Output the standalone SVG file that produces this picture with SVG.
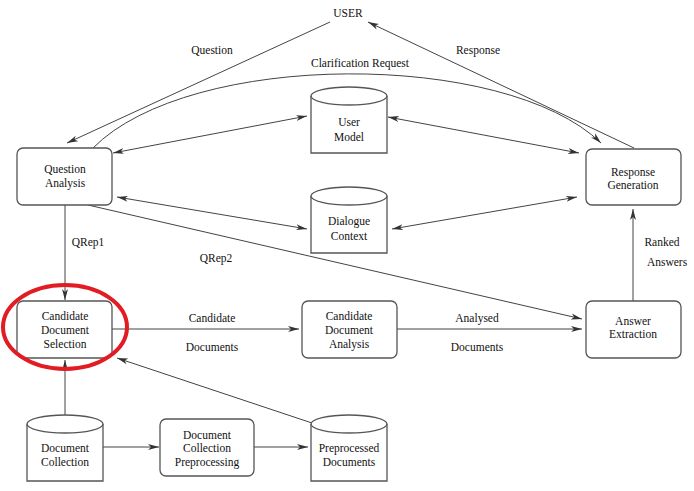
<svg xmlns="http://www.w3.org/2000/svg" width="694" height="491" viewBox="0 0 694 491">
<style>
.bx{fill:#fff;stroke:#555;stroke-width:1.3}
.t{font-family:"Liberation Serif","Times New Roman",serif;font-size:11.5px;fill:#111;text-anchor:middle}
.c{fill:none;stroke:#444;stroke-width:1}
</style>
<defs>
<marker id="ah" markerUnits="userSpaceOnUse" markerWidth="12" markerHeight="8" viewBox="0 0 12 8" refX="11" refY="4" orient="auto-start-reverse">
<path d="M0,1 L11,4 L0,7 L3,4 z" fill="#333"/>
</marker>
</defs>
<rect width="694" height="491" fill="#fff"/>
<g id="connectors">
<path class="c" d="M330,22 L67,143" marker-end="url(#ah)"/>
<path class="c" d="M634,148 L368,22" marker-end="url(#ah)"/>
<path class="c" d="M93,148 C190,50 505,50 601,143" marker-end="url(#ah)"/>
<path class="c" d="M113,153 L307,116" marker-start="url(#ah)" marker-end="url(#ah)"/>
<path class="c" d="M388,117 L579,153" marker-start="url(#ah)" marker-end="url(#ah)"/>
<path class="c" d="M117,197 L307,229" marker-start="url(#ah)" marker-end="url(#ah)"/>
<path class="c" d="M392,229 L577,197" marker-start="url(#ah)" marker-end="url(#ah)"/>
<path class="c" d="M65,205 L65,300" marker-end="url(#ah)"/>
<path class="c" d="M88,205 L582,319" marker-end="url(#ah)"/>
<path class="c" d="M112,329 L299,329" marker-end="url(#ah)"/>
<path class="c" d="M397,329 L582,329" marker-end="url(#ah)"/>
<path class="c" d="M633,301 L633,209" marker-end="url(#ah)"/>
<path class="c" d="M65,415 L65,360" marker-end="url(#ah)"/>
<path class="c" d="M312,423 L117,358" marker-end="url(#ah)"/>
<path class="c" d="M103,447 L159,447" marker-end="url(#ah)"/>
<path class="c" d="M254,447 L308,447" marker-end="url(#ah)"/>
<text class="t" x="212" y="54">Question</text>
<text class="t" x="478" y="54">Response</text>
<text class="t" x="360" y="67">Clarification Request</text>
<text class="t" x="88" y="246">QRep1</text>
<text class="t" x="216" y="262">QRep2</text>
<text class="t" x="212" y="322">Candidate</text>
<text class="t" x="212" y="351">Documents</text>
<text class="t" x="477" y="322">Analysed</text>
<text class="t" x="477" y="351">Documents</text>
<text class="t" x="662" y="246">Ranked</text>
<text class="t" x="667" y="266">Answers</text>
</g>
<g id="user"><text class="t" x="348" y="17">USER</text></g>
<g id="question-analysis">
<rect class="bx" x="17" y="148" width="95" height="57" rx="6"/>
<text class="t" x="65" y="173">Question</text>
<text class="t" x="65" y="187">Analysis</text>
</g>
<g id="response-generation">
<rect class="bx" x="586" y="149" width="95" height="56" rx="6"/>
<text class="t" x="633" y="176">Response</text>
<text class="t" x="633" y="189">Generation</text>
</g>
<g id="user-model">
<path class="bx" d="M311,96 L311,153 L387,153 L387,96"/>
<ellipse class="bx" cx="349" cy="96" rx="38" ry="9"/>
<text class="t" x="349" y="126">User</text>
<text class="t" x="349" y="141">Model</text>
</g>
<g id="dialogue-context">
<path class="bx" d="M311,196 L311,253 L387,253 L387,196"/>
<ellipse class="bx" cx="349" cy="196" rx="38" ry="9"/>
<text class="t" x="349" y="225">Dialogue</text>
<text class="t" x="349" y="240">Context</text>
</g>
<g id="candidate-document-selection">
<rect class="bx" x="17" y="301" width="95" height="57" rx="6"/>
<text class="t" x="65" y="320">Candidate</text>
<text class="t" x="65" y="334">Document</text>
<text class="t" x="65" y="348">Selection</text>
</g>
<g id="candidate-document-analysis">
<rect class="bx" x="302" y="301" width="95" height="57" rx="6"/>
<text class="t" x="349" y="320">Candidate</text>
<text class="t" x="349" y="334">Document</text>
<text class="t" x="349" y="348">Analysis</text>
</g>
<g id="answer-extraction">
<rect class="bx" x="586" y="301" width="95" height="57" rx="6"/>
<text class="t" x="633" y="325">Answer</text>
<text class="t" x="633" y="338">Extraction</text>
</g>
<g id="document-collection">
<path class="bx" d="M27,424 L27,481 L103,481 L103,424"/>
<ellipse class="bx" cx="65" cy="424" rx="38" ry="9"/>
<text class="t" x="65" y="452">Document</text>
<text class="t" x="65" y="466">Collection</text>
</g>
<g id="document-collection-preprocessing">
<rect class="bx" x="160" y="419" width="94" height="57" rx="6"/>
<text class="t" x="207" y="439">Document</text>
<text class="t" x="207" y="452">Collection</text>
<text class="t" x="207" y="466">Preprocessing</text>
</g>
<g id="preprocessed-documents">
<path class="bx" d="M311,424 L311,481 L387,481 L387,424"/>
<ellipse class="bx" cx="349" cy="424" rx="38" ry="9"/>
<text class="t" x="349" y="452">Preprocessed</text>
<text class="t" x="349" y="466">Documents</text>
</g>
<g id="highlight">
<ellipse cx="65" cy="327" rx="62" ry="42" fill="none" stroke="#e11d23" stroke-width="4"/>
</g>
</svg>
